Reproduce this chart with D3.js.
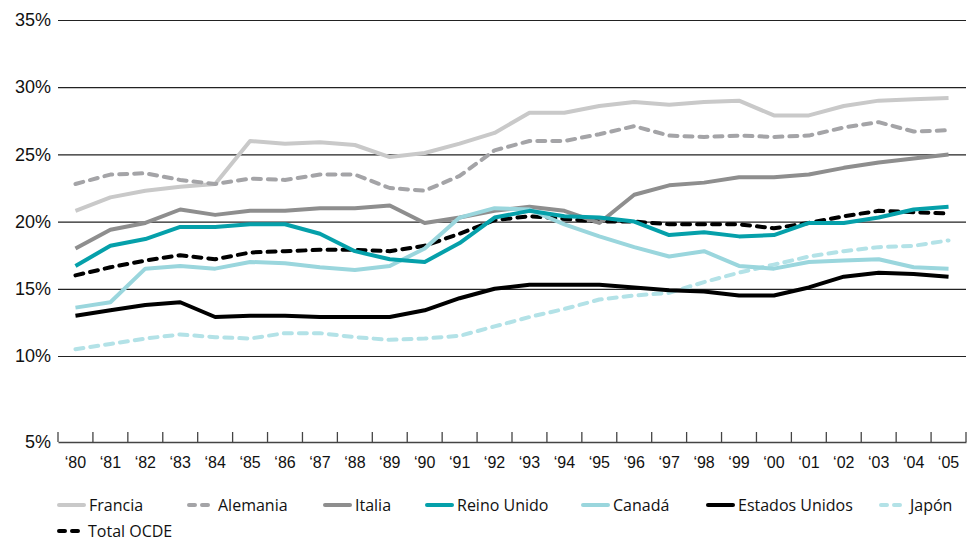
<!DOCTYPE html>
<html>
<head>
<meta charset="utf-8">
<script src="https://cdn.jsdelivr.net/npm/d3@7"></script>
<style>
body { margin:0; background:#fff; }
svg { display:block; font-family:'Open Sans', sans-serif; }
</style>
</head>
<body>
<svg id="chart" width="972" height="539"></svg>
<script>
//data
var years = ['80','81','82','83','84','85','86','87','88','89','90','91','92','93','94','95','96','97','98','99','00','01','02','03','04','05'];
var yTicks = [5,10,15,20,25,30,35];

var francia = [20.8,21.8,22.3,22.6,22.8,26.0,25.8,25.9,25.7,24.8,25.1,25.8,26.6,28.1,28.1,28.6,28.9,28.7,28.9,29.0,27.9,27.9,28.6,29.0,29.1,29.2];
var alemania = [22.8,23.5,23.6,23.1,22.8,23.2,23.1,23.5,23.5,22.5,22.3,23.4,25.3,26.0,26.0,26.5,27.1,26.4,26.3,26.4,26.3,26.4,27.0,27.4,26.7,26.8];
var italia = [18.0,19.4,19.9,20.9,20.5,20.8,20.8,21.0,21.0,21.2,19.9,20.3,20.8,21.1,20.8,19.9,22.0,22.7,22.9,23.3,23.3,23.5,24.0,24.4,24.7,25.0];
var reinoUnido = [16.7,18.2,18.7,19.6,19.6,19.8,19.8,19.1,17.8,17.2,17.0,18.4,20.3,20.8,20.4,20.3,20.0,19.0,19.2,18.9,19.0,19.9,19.9,20.3,20.9,21.1];
var canada = [13.6,14.0,16.5,16.7,16.5,17.0,16.9,16.6,16.4,16.7,18.0,20.3,21.0,20.9,19.8,18.9,18.1,17.4,17.8,16.7,16.5,17.0,17.1,17.2,16.6,16.5];
var estadosUnidos = [13.0,13.4,13.8,14.0,12.9,13.0,13.0,12.9,12.9,12.9,13.4,14.3,15.0,15.3,15.3,15.3,15.1,14.9,14.8,14.5,14.5,15.1,15.9,16.2,16.1,15.9];
var japon = [10.5,10.9,11.3,11.6,11.4,11.3,11.7,11.7,11.4,11.2,11.3,11.5,12.2,12.9,13.5,14.2,14.5,14.7,15.5,16.2,16.8,17.4,17.8,18.1,18.2,18.6];
var totalOcde = [16.0,16.6,17.1,17.5,17.2,17.7,17.8,17.9,17.9,17.8,18.2,19.1,20.1,20.4,20.2,20.0,20.0,19.8,19.8,19.8,19.5,19.9,20.4,20.8,20.7,20.6];

var names = ['Francia','Alemania','Italia','Reino Unido','Canadá','Estados Unidos','Japón','Total OCDE'];

//series table with styles
var series = [
	{name:'Francia', values:francia, color:'#c9c9c9', dash:null},
	{name:'Alemania', values:alemania, color:'#a4a4a7', dash:'8,7'},
	{name:'Japón', values:japon, color:'#b3e2e7', dash:'8,7'},
	{name:'Total OCDE', values:totalOcde, color:'#000', dash:'8,7'},
	{name:'Italia', values:italia, color:'#8e8e8e', dash:null},
	{name:'Canadá', values:canada, color:'#9ad6dd', dash:null},
	{name:'Reino Unido', values:reinoUnido, color:'#05a0aa', dash:null},
	{name:'Estados Unidos', values:estadosUnidos, color:'#000', dash:null}
];
var styleOf = {};
series.forEach(function(s){ styleOf[s.name] = s; });

//layout
var plotLeft = 58, plotRight = 966, plotTop = 20, axisY = 442;
var legendX = [57,187,323,425,581,706,879,57];
var legendY = [505,505,505,505,505,505,505,531];

var x = d3.scaleBand().domain(years).range([plotLeft,plotRight]);
// 5% sits on the axis below a gap, so the scale is piecewise
var y = d3.scaleLinear().domain([5,10,35]).range([axisY,356,plotTop]);

var svg = d3.select('#chart');

//grid + y labels
var yAxis = svg.append('g')
	.attr('transform','translate('+plotLeft+',0)')
	.call(d3.axisLeft(y).tickValues(yTicks).tickSize(-(plotRight-plotLeft)).tickPadding(7).tickFormat(function(d){ return d+'%'; }));

yAxis.select('.domain').remove();
yAxis.selectAll('.tick line')
	.attr('stroke','#222')
	.attr('stroke-width',1.2)
	.style('display',function(d){ return d==5 ? 'none' : null; });
yAxis.selectAll('.tick text')
	.style('font-size','18px')
	.attr('fill','#111');

//x axis
var xAxis = svg.append('g')
	.attr('transform','translate(0,'+axisY+')')
	.call(d3.axisBottom(x).tickSize(0).tickPadding(15).tickFormat(function(d){ return '\u2018'+d; }));

xAxis.select('.domain').attr('stroke','#444').attr('stroke-width',1.5);
xAxis.selectAll('.tick text')
	.style('font-size','16px')
	.attr('fill','#111');

var edges = years.map(function(d){ return x(d); }).concat([plotRight]);
svg.append('g').selectAll('line').data(edges)
	.enter()
	.append('line')
	.attr('x1',function(d){ return d; })
	.attr('x2',function(d){ return d; })
	.attr('y1',axisY-10)
	.attr('y2',axisY)
	.attr('stroke','#444')
	.attr('stroke-width',1.3);

//lines
var line = d3.line()
	.x(function(d,i){ return x(years[i]) + x.bandwidth()/2; })
	.y(function(d){ return y(d); });

svg.append('g').selectAll('path').data(series)
	.enter()
	.append('path')
	.attr('d',function(d){ return line(d.values); })
	.attr('fill','none')
	.attr('stroke',function(d){ return d.color; })
	.attr('stroke-width',4)
	.attr('stroke-linejoin','round')
	.attr('stroke-linecap',function(d){ return d.dash ? 'round' : 'butt'; })
	.attr('stroke-dasharray',function(d){ return d.dash; });

//legend
var legend = svg.append('g').selectAll('g').data(names)
	.enter()
	.append('g')
	.attr('transform',function(d,i){ return 'translate('+legendX[i]+','+legendY[i]+')'; });

legend.append('line')
	.attr('x1',2)
	.attr('x2',function(d){ return styleOf[d].dash ? 23 : 27; })
	.attr('y1',0)
	.attr('y2',0)
	.attr('stroke',function(d){ return styleOf[d].color; })
	.attr('stroke-width',4)
	.attr('stroke-linecap','round')
	.attr('stroke-dasharray',function(d){ return styleOf[d].dash ? '6,7' : null; });

legend.append('text')
	.attr('x',function(d){ return styleOf[d].dash ? 31 : 32; })
	.attr('dy','0.35em')
	.style('font-size','16px')
	.attr('fill','#111')
	.text(function(d){ return d; });
</script>
</body>
</html>
